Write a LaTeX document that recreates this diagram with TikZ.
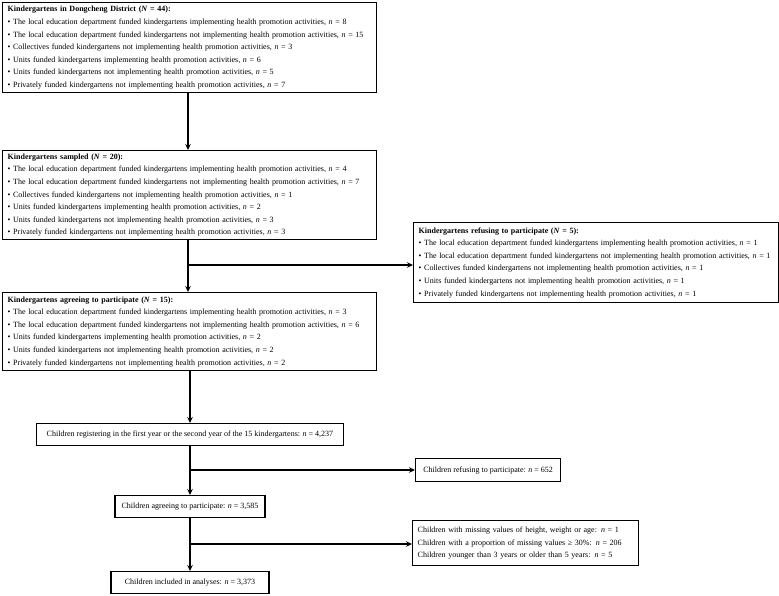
\documentclass[tikz,border=0pt]{standalone}
\usepackage{fontspec}
\setmainfont{Liberation Serif}
\usetikzlibrary{arrows.meta}
\begin{document}
\begin{tikzpicture}[x=1pt,y=-1pt,
  box/.style={draw, line width=1.4pt, rectangle, inner xsep=5pt, inner ysep=2pt, font=\fontsize{8}{12.6}\selectfont},
  listbox/.style={box, anchor=north west, align=left},
  onebox/.style={box, anchor=north, align=center, minimum height=22pt},
  arr/.style={line width=1.2pt, -{Stealth[length=6pt,width=5.5pt]}},
  ln/.style={line width=1.2pt}]
\useasboundingbox (0,0) rectangle (779,595);

\node[listbox, text width=364pt, minimum height=90pt] (b1) at (2,2) {%
\textbf{Kindergartens in Dongcheng District (\textit{N} = 44):}\\
\textbullet\ The local education department funded kindergartens implementing health promotion activities, \textit{n} = 8\\
\textbullet\ The local education department funded kindergartens not implementing health promotion activities, \textit{n} = 15\\
\textbullet\ Collectives funded kindergartens not implementing health promotion activities, \textit{n} = 3\\
\textbullet\ Units funded kindergartens implementing health promotion activities, \textit{n} = 6\\
\textbullet\ Units funded kindergartens not implementing health promotion activities, \textit{n} = 5\\
\textbullet\ Privately funded kindergartens not implementing health promotion activities, \textit{n} = 7};

\node[listbox, text width=364pt, minimum height=89pt] (b2) at (2,150) {%
\textbf{Kindergartens sampled (\textit{N} = 20):}\\
\textbullet\ The local education department funded kindergartens implementing health promotion activities, \textit{n} = 4\\
\textbullet\ The local education department funded kindergartens not implementing health promotion activities, \textit{n} = 7\\
\textbullet\ Collectives funded kindergartens not implementing health promotion activities, \textit{n} = 1\\
\textbullet\ Units funded kindergartens implementing health promotion activities, \textit{n} = 2\\
\textbullet\ Units funded kindergartens not implementing health promotion activities, \textit{n} = 3\\
\textbullet\ Privately funded kindergartens not implementing health promotion activities, \textit{n} = 3};

\node[listbox, text width=355pt, minimum height=80pt] (b3) at (413,222) {%
\textbf{Kindergartens refusing to participate (\textit{N} = 5):}\\
\textbullet\ The local education department funded kindergartens implementing health promotion activities, \textit{n} = 1\\
\textbullet\ The local education department funded kindergartens not implementing health promotion activities, \textit{n} = 1\\
\textbullet\ Collectives funded kindergartens not implementing health promotion activities, \textit{n} = 1\\
\textbullet\ Units funded kindergartens not implementing health promotion activities, \textit{n} = 1\\
\textbullet\ Privately funded kindergartens not implementing health promotion activities, \textit{n} = 1};

\node[listbox, text width=364pt, minimum height=78pt] (b4) at (2,292) {%
\textbf{Kindergartens agreeing to participate (\textit{N} = 15):}\\
\textbullet\ The local education department funded kindergartens implementing health promotion activities, \textit{n} = 3\\
\textbullet\ The local education department funded kindergartens not implementing health promotion activities, \textit{n} = 6\\
\textbullet\ Units funded kindergartens implementing health promotion activities, \textit{n} = 2\\
\textbullet\ Units funded kindergartens not implementing health promotion activities, \textit{n} = 2\\
\textbullet\ Privately funded kindergartens not implementing health promotion activities, \textit{n} = 2};

\node[onebox, minimum width=307pt] (b5) at (190,423) {Children registering in the first year or the second year of the 15 kindergartens: \textit{n} = 4,237};
\node[box, anchor=north west, minimum width=145pt, minimum height=23pt] (b6) at (415,458) {Children refusing to participate: \textit{n} = 652};
\node[onebox, minimum width=150pt] (b7) at (190,495) {Children agreeing to participate: \textit{n} = 3,585};
\node[listbox, text width=216pt, minimum height=45pt] (b8) at (412,520) {%
Children with missing values of height, weight or age: \textit{n} = 1\\
Children with a proportion of missing values ≥ 30\%: \textit{n} = 206\\
Children younger than 3 years or older than 5 years: \textit{n} = 5};
\node[onebox, minimum width=158pt] (b9) at (190,571) {Children included in analyses: \textit{n} = 3,373};

\coordinate (j1) at (188,265);
\coordinate (j2) at (190,470);
\coordinate (j3) at (190,544);

\draw[arr] (b1.south -| j1) -- (b2.north -| j1);
\draw[arr] (b2.south -| j1) -- (b4.north -| j1);
\draw[arr] (j1) -- (b3.west |- j1);
\draw[arr] (b4.south -| b5.north) -- (b5.north);
\draw[arr] (b5.south) -- (b7.north);
\draw[arr] (j2) -- (b6.west |- j2);
\draw[arr] (b7.south) -- (b9.north);
\draw[arr] (j3) -- (b8.west |- j3);
\end{tikzpicture}
\end{document}
